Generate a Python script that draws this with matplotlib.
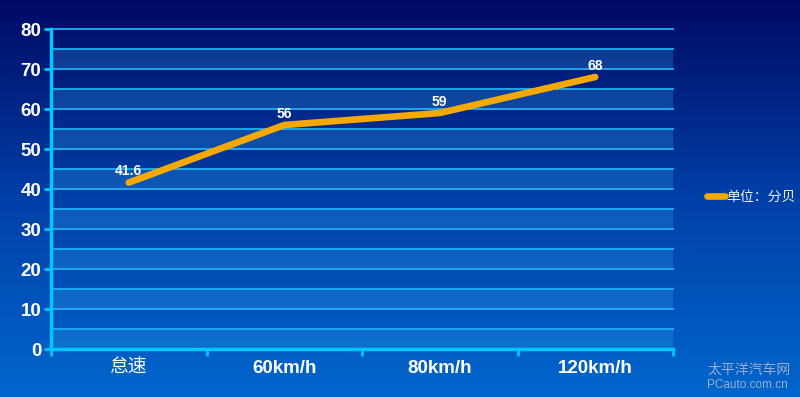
import numpy as np
import matplotlib
matplotlib.use("Agg")
import matplotlib.pyplot as plt
from matplotlib.colors import LinearSegmentedColormap

categories = ["怠速", "60km/h", "80km/h", "120km/h"]
noise_db = [41.6, 56, 59, 68]
y_ticks = [0, 10, 20, 30, 40, 50, 60, 70, 80]
legend_label = "单位：分贝"

plt.rcParams['font.family'] = ['Liberation Sans', 'Noto Sans CJK SC', 'DejaVu Sans']

fig = plt.figure(figsize=(8, 3.97), dpi=100)

# фон с вертикальным градиентом
bg = fig.add_axes([0, 0, 1, 1], zorder=0)
cmap = LinearSegmentedColormap.from_list("bg", ["#000a64", "#0040a8", "#0066cc"])
grad = np.linspace(0, 1, 256).reshape(-1, 1)
bg.imshow(grad, aspect="auto", cmap=cmap, extent=[0, 1, 0, 1], origin="upper")
bg.axis("off")

ax = fig.add_axes([51 / 800, 48 / 397, 622 / 800, 320 / 397], zorder=1)
ax.patch.set_alpha(0)

x = np.arange(len(categories))
ax.set_xlim(-0.5, len(categories) - 0.5)
ax.set_ylim(0, 80)

# полосы и сетка
for lo in range(0, 80, 10):
    ax.axhspan(lo, lo + 5, color="#3aa8f0", alpha=0.25, lw=0, zorder=1)
for yv in range(5, 81, 5):
    ax.axhline(yv, color="#1eb0f5", lw=1.3, zorder=2, clip_on=False)

ax.plot(x, noise_db, color="#f5a800", lw=4.8, solid_capstyle="round",
        solid_joinstyle="round", zorder=4, label=legend_label)
for xi, v in zip(x, noise_db):
    ax.annotate(f"{v:g}", (xi, v), xytext=(0, 3), textcoords="offset points",
                ha="center", va="bottom", color="white", fontsize=10,
                fontweight="bold", zorder=5)

axis_color = "#00c8ff"
for s in ["top", "right"]:
    ax.spines[s].set_visible(False)
ax.spines["left"].set_color(axis_color)
ax.spines["bottom"].set_color(axis_color)
ax.spines["left"].set_linewidth(2.5)
ax.spines["bottom"].set_linewidth(2.5)

ax.set_yticks(y_ticks)
ax.set_yticklabels([str(t) for t in y_ticks], fontsize=13.5, fontweight="bold")
ax.tick_params(axis="y", colors=axis_color, length=5, width=2, pad=2,
               labelcolor="white")

ax.set_xticks(x)
ax.set_xticklabels(categories, fontsize=13.5, fontweight="bold")
ax.get_xticklabels()[0].set_fontweight("normal")
ax.tick_params(axis="x", length=0, pad=8, labelcolor="white")
ax.set_xticks(np.arange(-0.5, len(categories), 1.0), minor=True)
ax.tick_params(axis="x", which="minor", colors=axis_color, length=5, width=2)

leg = ax.legend(loc="center left", bbox_to_anchor=(1.035, 0.475), frameon=False,
                handlelength=1.3, handletextpad=0.1, fontsize=10)
for t in leg.get_texts():
    t.set_color("#e8eef8")

fig.text(0.988, 0.05, "太平洋汽车网", ha="right", va="bottom", color="#9aadd0",
         fontsize=10)
fig.text(0.985, 0.015, "PCauto.com.cn", ha="right", va="bottom", color="#9aadd0",
         fontsize=8.5)

fig.savefig("out.png", dpi=100)
